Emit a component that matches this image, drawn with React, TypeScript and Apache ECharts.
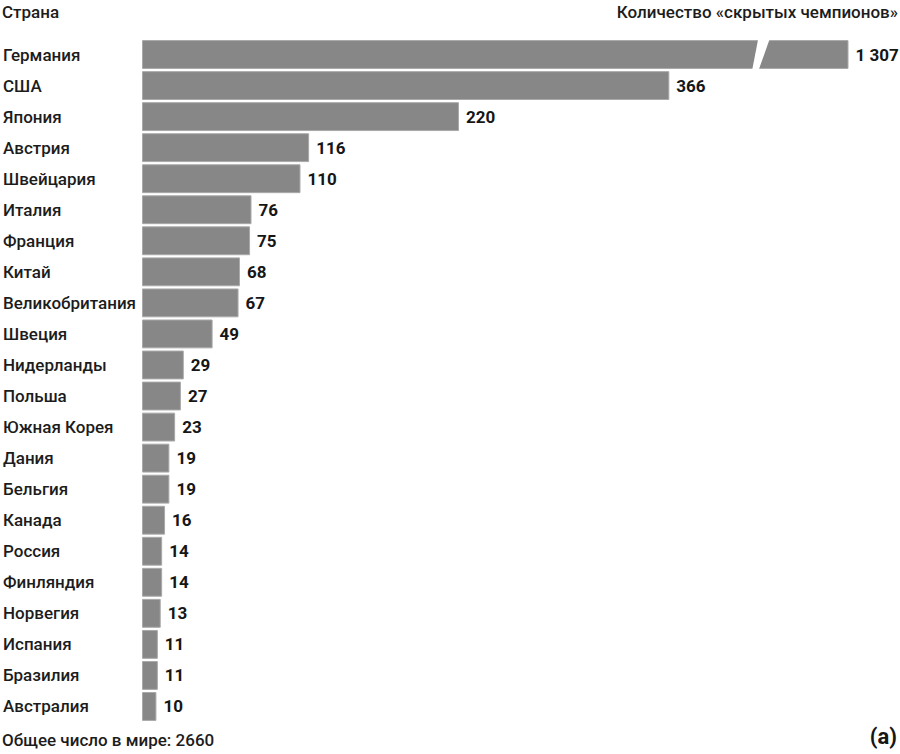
import React, { useEffect, useRef } from "react";
import * as echarts from "echarts";

const countries = [
  "Германия", "США", "Япония", "Австрия", "Швейцария", "Италия", "Франция", "Китай",
  "Великобритания", "Швеция", "Нидерланды", "Польша", "Южная Корея", "Дания", "Бельгия",
  "Канада", "Россия", "Финляндия", "Норвегия", "Испания", "Бразилия", "Австралия",
];
const champions = [1307, 366, 220, 116, 110, 76, 75, 68, 67, 49, 29, 27, 23, 19, 19, 16, 14, 14, 13, 11, 11, 10];
const axisMax = 490; // visible range; Germany's bar is broken
const breakAt = 428; // where the Germany bar is visually cut
const leftTitle = "Страна";
const rightTitle = "Количество «скрытых чемпионов»";
const footer = "Общее число в мире: 2660";
const tag = "(a)";

const FONT = "Roboto, 'DejaVu Sans', sans-serif";

const fmt = (v: number) => String(v).replace(/\B(?=(\d{3})+(?!\d))/g, " ");

export default function App() {
  const ref = useRef<HTMLDivElement>(null);
  useEffect(() => {
    if (!ref.current) return;
    const chart = echarts.init(ref.current, undefined, { renderer: "svg" });
    const texts = [
      { type: "text", left: 2, top: 3, style: { text: leftTitle, fontSize: 17, fontWeight: 500, fill: "#1c1c1c", fontFamily: FONT } },
      { type: "text", right: 2, top: 3, style: { text: rightTitle, fontSize: 17, fontWeight: 500, fill: "#1c1c1c", fontFamily: FONT } },
      { type: "text", left: 2, top: 731, style: { text: footer, fontSize: 17, fontWeight: 500, fill: "#1c1c1c", fontFamily: FONT } },
      { type: "text", right: 3, top: 725, style: { text: tag, fontSize: 22, fontWeight: "bold", fill: "#161616", fontFamily: FONT } },
    ];
    chart.setOption({
      animation: false,
      textStyle: { fontFamily: FONT },
      grid: { left: 141, right: 52, top: 39, height: 683 },
      xAxis: { type: "value", min: 0, max: axisMax, show: false, splitLine: { show: false } },
      yAxis: {
        type: "category",
        inverse: true,
        data: countries,
        axisLine: { show: false },
        axisTick: { show: false },
        axisLabel: {
          align: "left",
          margin: 139,
          fontSize: 17,
          fontWeight: 500,
          color: "#1c1c1c",
          fontFamily: FONT,
        },
      },
      series: [
        {
          type: "bar",
          data: champions,
          clip: true,
          barCategoryGap: "7%",
          itemStyle: { color: "#878787", borderColor: "#a9a9a9", borderWidth: 1 },
          label: {
            show: true,
            position: "right",
            distance: 7,
            fontSize: 17,
            fontWeight: "bold",
            color: "#161616",
            fontFamily: FONT,
            formatter: (p: any) => fmt(p.value),
          },
        },
      ],
      graphic: texts,
    });
    const cx = chart.convertToPixel({ xAxisIndex: 0 }, breakAt) as number;
    const cy = chart.convertToPixel({ yAxisIndex: 0 }, countries[0]) as number;
    const h = 15.5;
    chart.setOption({
      graphic: [
        ...texts,
        {
          type: "polygon",
          z: 100,
          shape: {
            points: [
              [cx - 0.5, cy - h],
              [cx + 11, cy - h],
              [cx, cy + h],
              [cx - 6.5, cy + h],
            ],
          },
          style: { fill: "#ffffff" },
        },
      ],
    }, { replaceMerge: ["graphic"] } as any);
    return () => chart.dispose();
  }, []);
  return <div ref={ref} style={{ position: "absolute", left: 0, top: 0, width: 900, height: 754 }} />;
}
